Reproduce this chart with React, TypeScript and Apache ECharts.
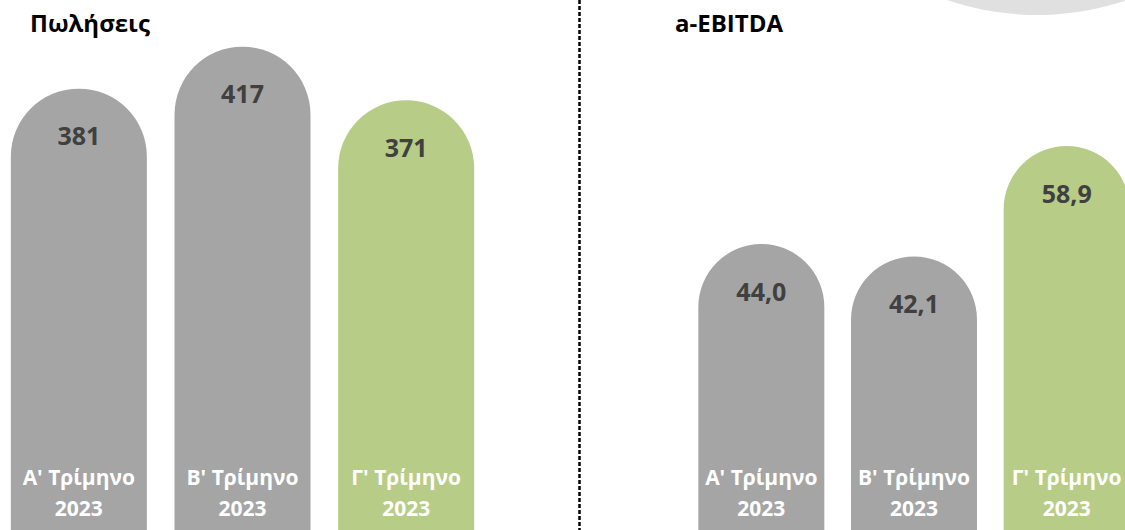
import React, { useEffect, useRef } from "react";
import * as echarts from "echarts";

const categories = ["Α' Τρίμηνο\n2023", "Β' Τρίμηνο\n2023", "Γ' Τρίμηνο\n2023"];
const salesValues = [381, 417, 371];
const ebitdaValues = [44.0, 42.1, 58.9];
const barColors = ["#a5a5a5", "#a5a5a5", "#b7cc86"];
const titles = ["Πωλήσεις", "a-EBITDA"];

const FONT = "'Open Sans', 'Noto Sans', sans-serif";

export default function App() {
  const ref = useRef<HTMLDivElement>(null);
  useEffect(() => {
    if (!ref.current) return;
    const chart = echarts.init(ref.current, undefined, { renderer: "svg" });
    const xAxisCommon = {
      type: "category" as const,
      data: categories,
      z: 10,
      axisLine: { show: false },
      axisTick: { show: false },
      splitLine: { show: false },
      axisLabel: {
        interval: 0,
        margin: -72,
        color: "#ffffff",
        fontFamily: FONT,
        fontWeight: "bold" as const,
        fontSize: 21,
        lineHeight: 31,
      },
    };
    const yAxisCommon = {
      type: "value" as const,
      min: 0,
      axisLine: { show: false },
      axisTick: { show: false },
      axisLabel: { show: false },
      splitLine: { show: false },
    };
    const makeData = (vals: number[]) =>
      vals.map((v, i) => ({ value: v, itemStyle: { color: barColors[i] } }));
    const labelCommon = {
      show: true,
      position: "insideTop" as const,
      distance: 34,
      color: "#404040",
      fontFamily: FONT,
      fontWeight: "bold" as const,
      fontSize: 25,
    };
    chart.setOption({
      animation: false,
      backgroundColor: "#ffffff",
      title: [
        {
          text: titles[0],
          left: 30,
          top: 10,
          padding: 0,
          textStyle: { fontFamily: FONT, fontWeight: "bold", fontSize: 24, color: "#000" },
        },
        {
          text: titles[1],
          left: 675,
          top: 10,
          padding: 0,
          textStyle: { fontFamily: FONT, fontWeight: "bold", fontSize: 24, color: "#000" },
        },
      ],
      grid: [
        { left: -3, width: 491, top: 0, bottom: -3, outerBoundsMode: "none" },
        { left: 685, width: 458, top: 0, bottom: -3.5, outerBoundsMode: "none" },
      ],
      xAxis: [
        { ...xAxisCommon, gridIndex: 0 },
        { ...xAxisCommon, gridIndex: 1 },
      ],
      yAxis: [
        { ...yAxisCommon, gridIndex: 0, max: 457 },
        { ...yAxisCommon, gridIndex: 1, max: 81.1 },
      ],
      series: [
        {
          type: "bar",
          xAxisIndex: 0,
          yAxisIndex: 0,
          barWidth: 136,
          data: makeData(salesValues),
          itemStyle: { borderRadius: [68, 68, 0, 0] },
          label: { ...labelCommon, formatter: (p: any) => String(p.value) },
        },
        {
          type: "bar",
          xAxisIndex: 1,
          yAxisIndex: 1,
          barWidth: 126,
          data: makeData(ebitdaValues),
          itemStyle: { borderRadius: [63, 63, 0, 0] },
          label: {
            ...labelCommon,
            formatter: (p: any) => Number(p.value).toFixed(1).replace(".", ","),
          },
        },
      ],
      graphic: [
        {
          type: "circle",
          shape: { cx: 1037, cy: -262, r: 277 },
          style: { fill: "#e0e0e0" },
          z: 0,
        },
        {
          type: "line",
          shape: { x1: 579.5, y1: 0, x2: 579.5, y2: 530 },
          style: { stroke: "#000000", lineWidth: 2.5, lineDash: [4, 2] },
          z: 5,
        },
      ],
    });
    return () => chart.dispose();
  }, []);
  return (
    <div
      ref={ref}
      style={{ position: "fixed", left: 0, top: 0, width: 1125, height: 530 }}
    />
  );
}
